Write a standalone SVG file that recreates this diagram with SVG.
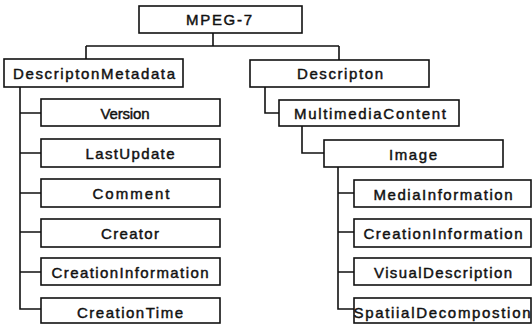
<svg xmlns="http://www.w3.org/2000/svg" width="532" height="324" viewBox="0 0 532 324">
  <style>
    .box { fill: #ffffff; stroke: #111111; stroke-width: 1.6; }
    .lbl { font-family: "Liberation Sans", Arial, sans-serif; font-size: 15px; fill: #111111; stroke: #111111; stroke-width: 0.45; text-anchor: middle; }
    .wire { fill: none; stroke: #111111; stroke-width: 1.6; }
  </style>
  <rect width="532" height="324" fill="#ffffff"/>

  <!-- tree connectors -->
  <g id="connectors">
    <path class="wire" d="M213,33 V46 M86,46 H339 M86,46 V59 M339,46 V60"/>
    <path class="wire" d="M20,87 V309 H41 M20,113 H41 M20,153 H41 M20,193 H41 M20,232 H41 M20,272 H41"/>
    <path class="wire" d="M265,87 V113 H279"/>
    <path class="wire" d="M302,126 V153 H324"/>
    <path class="wire" d="M338,167 V309 H354 M338,193 H354 M338,232 H354 M338,272 H354"/>
  </g>

  <g id="mpeg7">
    <rect class="box" x="139" y="6" width="163" height="27"/>
    <text class="lbl" x="219" y="25" textLength="66" lengthAdjust="spacing">MPEG-7</text>
  </g>

  <g id="descriptionMetadata">
    <rect class="box" x="4" y="59" width="179" height="28"/>
    <text class="lbl" x="94" y="78.5" textLength="162" lengthAdjust="spacing">DescriptonMetadata</text>
  </g>

  <g id="description">
    <rect class="box" x="250" y="60" width="179" height="27"/>
    <text class="lbl" x="340" y="79" textLength="86" lengthAdjust="spacing">Descripton</text>
  </g>

  <!-- metadata children -->
  <g id="version">
    <rect class="box" x="41" y="99" width="179" height="27"/>
    <text class="lbl" x="125" y="118.5" textLength="49" lengthAdjust="spacing">Version</text>
  </g>
  <g id="lastUpdate">
    <rect class="box" x="41" y="139" width="179" height="28"/>
    <text class="lbl" x="130" y="158.5" textLength="89" lengthAdjust="spacing">LastUpdate</text>
  </g>
  <g id="comment">
    <rect class="box" x="41" y="179" width="179" height="28"/>
    <text class="lbl" x="131" y="198.5" textLength="77" lengthAdjust="spacing">Comment</text>
  </g>
  <g id="creator">
    <rect class="box" x="41" y="219" width="179" height="28"/>
    <text class="lbl" x="130" y="238.5" textLength="58" lengthAdjust="spacing">Creator</text>
  </g>
  <g id="creationInformationMeta">
    <rect class="box" x="41" y="258" width="179" height="27"/>
    <text class="lbl" x="130" y="277.5" textLength="157" lengthAdjust="spacing">CreationInformation</text>
  </g>
  <g id="creationTime">
    <rect class="box" x="41" y="298" width="179" height="25"/>
    <text class="lbl" x="130" y="317.5" textLength="106" lengthAdjust="spacing">CreationTime</text>
  </g>

  <!-- content branch -->
  <g id="multimediaContent">
    <rect class="box" x="279" y="100" width="180" height="26"/>
    <text class="lbl" x="370" y="118.5" textLength="152" lengthAdjust="spacing">MultimediaContent</text>
  </g>
  <g id="image">
    <rect class="box" x="324" y="140" width="179" height="27"/>
    <text class="lbl" x="413" y="159.5" textLength="48" lengthAdjust="spacing">Image</text>
  </g>
  <g id="mediaInformation">
    <rect class="box" x="354" y="180" width="177" height="27"/>
    <text class="lbl" x="443" y="199.5" textLength="139" lengthAdjust="spacing">MediaInformation</text>
  </g>
  <g id="creationInformationImage">
    <rect class="box" x="354" y="219" width="177" height="28"/>
    <text class="lbl" x="443" y="238.5" textLength="159" lengthAdjust="spacing">CreationInformation</text>
  </g>
  <g id="visualDescription">
    <rect class="box" x="354" y="258" width="177" height="27"/>
    <text class="lbl" x="443" y="277.5" textLength="138" lengthAdjust="spacing">VisualDescription</text>
  </g>
  <g id="spatialDecomposition">
    <rect class="box" x="354" y="298" width="177" height="25"/>
    <text class="lbl" x="442" y="317.5" textLength="177" lengthAdjust="spacing">SpatiialDecompostion</text>
  </g>
</svg>
